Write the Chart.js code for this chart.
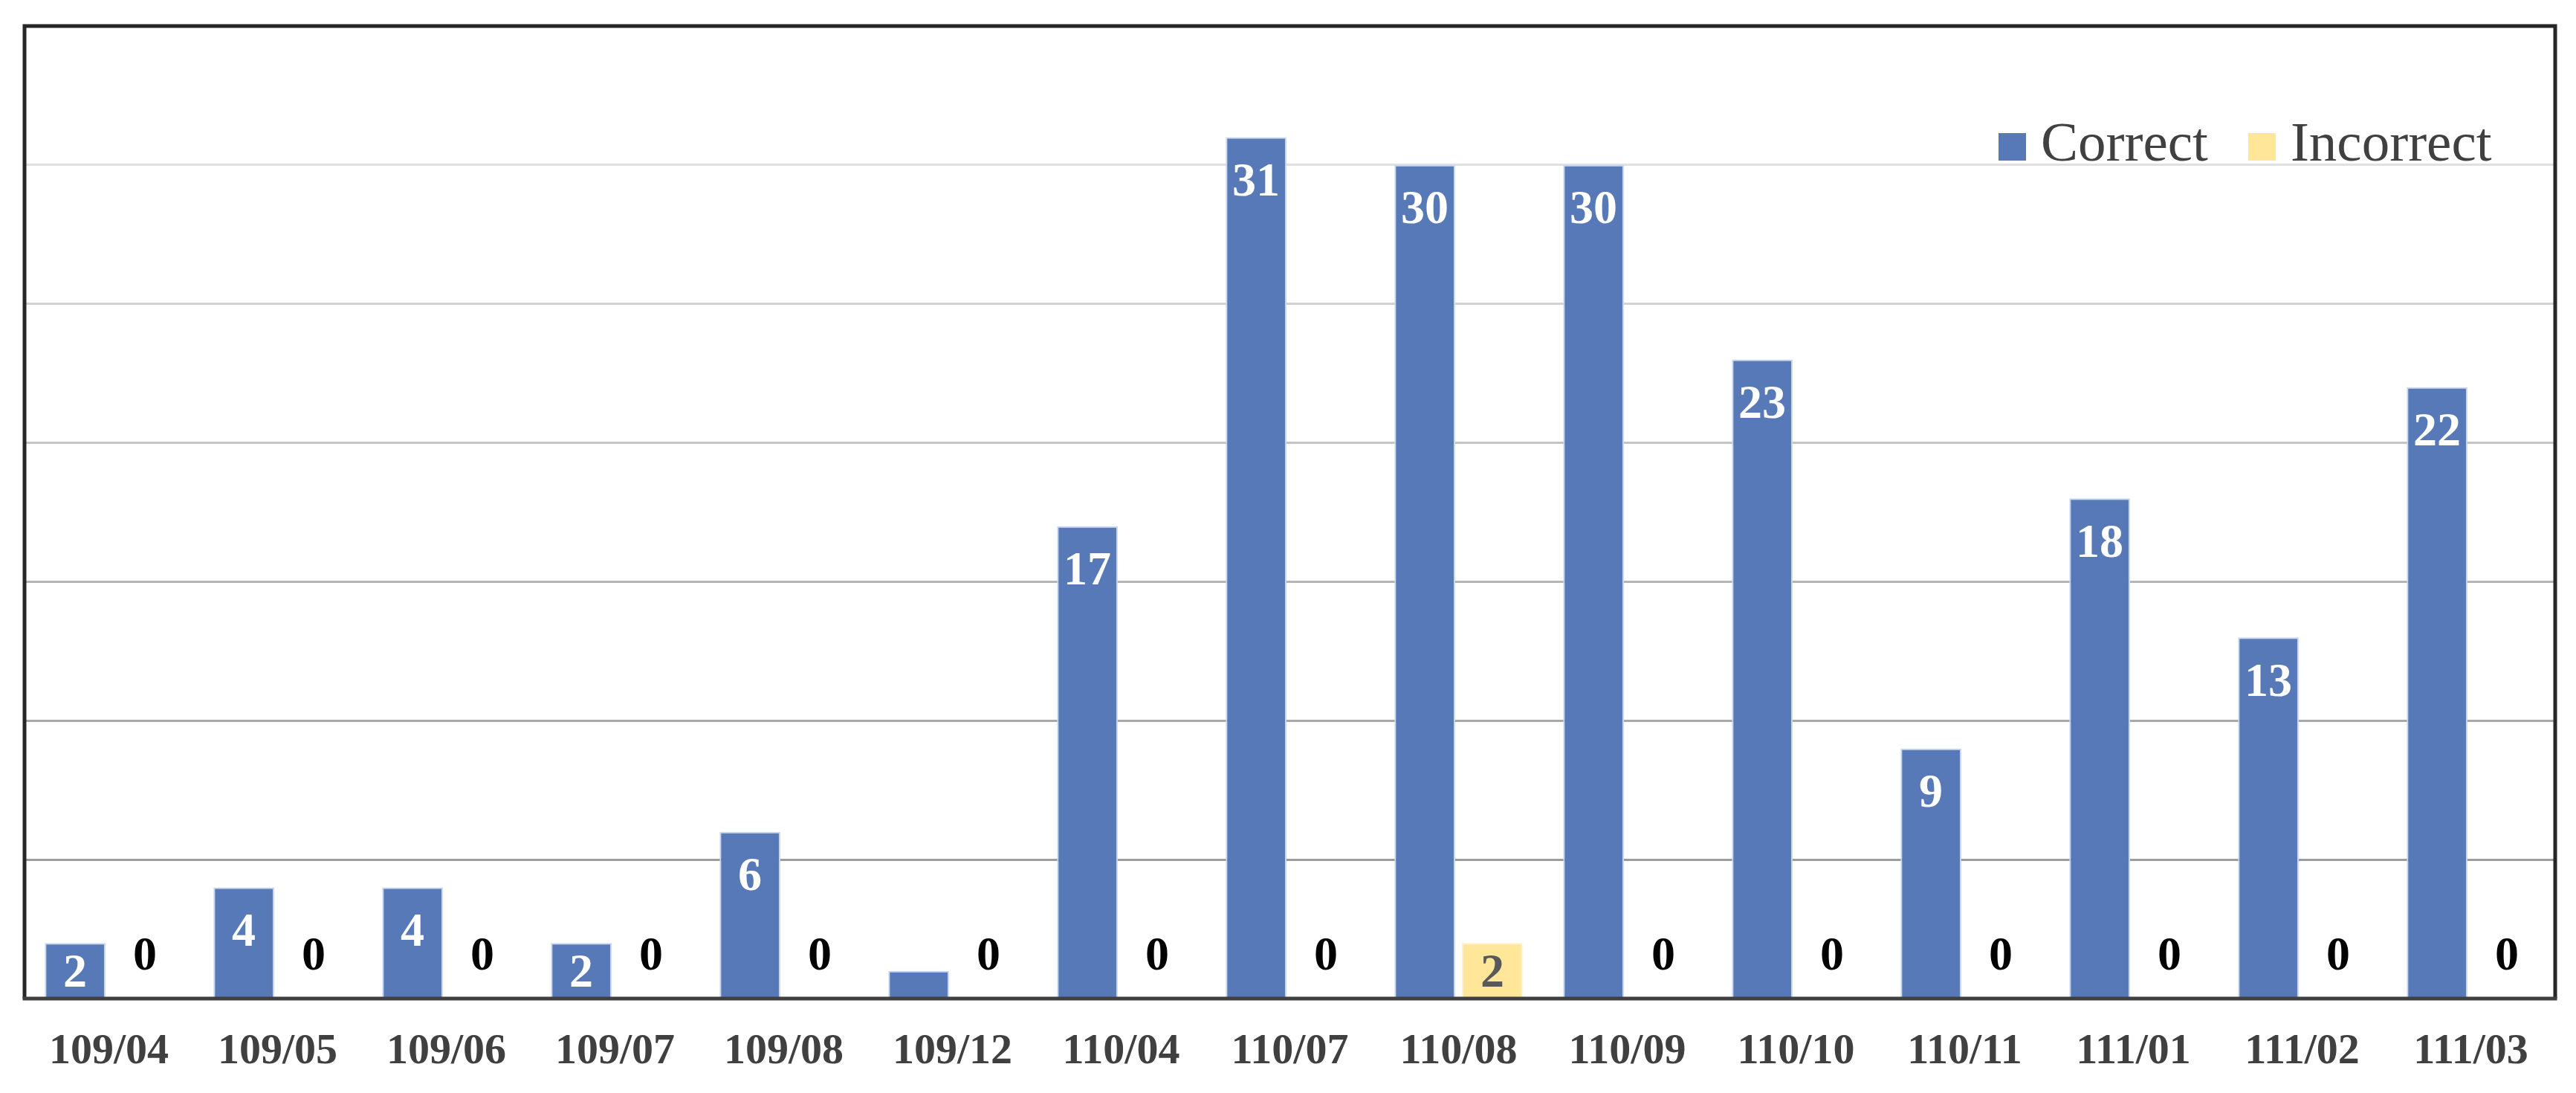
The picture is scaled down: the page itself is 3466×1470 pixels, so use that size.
<!DOCTYPE html>
<html>
<head>
<meta charset="utf-8">
<script src="https://cdn.jsdelivr.net/npm/chart.js@4.4.1/dist/chart.umd.min.js"></script>
<style>
  html, body { margin: 0; padding: 0; background: #ffffff; }
  #wrap { width: 3466px; height: 1470px; }
</style>
</head>
<body>
<div id="wrap"><canvas id="c" width="3466" height="1470"></canvas></div>
<script>
const categories = ["109/04","109/05","109/06","109/07","109/08","109/12","110/04","110/07","110/08","110/09","110/10","110/11","111/01","111/02","111/03"];
const correctValues = [2,4,4,2,6,1,17,31,30,30,23,9,18,13,22];
const incorrectValues = [0,0,0,0,0,0,0,0,2,0,0,0,0,0,0];
const seriesNames = ["Correct","Incorrect"];
const yTicks = [0,5,10,15,20,25,30,35];

const BLUE = "#5779B8";
const YELLOW = "#FFE699";
const SERIF = "'Liberation Serif', 'Times New Roman', serif";
const gridShades = ["#3f3f3f","#9c9c9c","#a9a9a9","#b5b5b5","#c4c4c4","#d2d2d2","#e0e0e0","#262626"];

const labelPlugin = {
  id: "barLabels",
  afterDatasetsDraw(chart) {
    const ctx = chart.ctx;
    ctx.save();
    ctx.font = "bold 64px " + SERIF;
    ctx.textAlign = "center";
    ctx.textBaseline = "middle";
    chart.data.datasets.forEach((ds, di) => {
      const meta = chart.getDatasetMeta(di);
      meta.data.forEach((el, i) => {
        const v = ds.data[i];
        const h = el.base - el.y;
        let y, color;
        if (v === 0) {
          y = el.base - 58;
          color = "#000000";
        } else {
          if (h < 60) return;
          y = Math.min(el.y + 60, el.base - 33);
          color = di === 0 ? "#ffffff" : "#595959";
        }
        ctx.fillStyle = color;
        ctx.fillText(String(v), el.x + (v === 0 ? 3 : 0), y + 2);
      });
    });
    ctx.restore();
  },
  afterDraw(chart) {
    const ctx = chart.ctx;
    const a = chart.chartArea;
    ctx.save();
    ctx.strokeStyle = "#262626";
    ctx.lineWidth = 5;
    ctx.beginPath();
    ctx.moveTo(a.left, a.bottom);
    ctx.lineTo(a.left, a.top);
    ctx.lineTo(a.right, a.top);
    ctx.lineTo(a.right, a.bottom);
    ctx.stroke();
    ctx.strokeStyle = "#404040";
    ctx.beginPath();
    ctx.moveTo(a.left - 2.5, a.bottom);
    ctx.lineTo(a.right + 2.5, a.bottom);
    ctx.stroke();
    ctx.font = "75px " + SERIF;
    ctx.textAlign = "left";
    ctx.textBaseline = "alphabetic";
    const baseY = 216;
    const sw = 37;
    let x = 2689;
    chart.data.datasets.forEach((ds) => {
      ctx.fillStyle = ds.backgroundColor;
      ctx.fillRect(x, baseY - sw, sw, sw);
      x += sw + 20;
      ctx.fillStyle = "#404040";
      ctx.fillText(ds.label, x, baseY);
      x += ctx.measureText(ds.label).width + 54;
    });
    ctx.restore();
  }
};

new Chart(document.getElementById("c"), {
  type: "bar",
  data: {
    labels: categories,
    datasets: [
      { label: seriesNames[0], data: correctValues, backgroundColor: BLUE, borderColor: "#c7d6f0", borderWidth: 2, borderSkipped: "bottom" },
      { label: seriesNames[1], data: incorrectValues, backgroundColor: YELLOW, borderColor: "#fff1c4", borderWidth: 2, borderSkipped: "bottom" }
    ]
  },
  options: {
    responsive: false,
    animation: false,
    layout: { padding: { left: 33, right: 28, top: 35, bottom: 20 } },
    plugins: { legend: { display: false }, tooltip: { enabled: false } },
    scales: {
      x: {
        categoryPercentage: 0.722,
        barPercentage: 1.0,
        grid: { display: false, drawTicks: false },
        border: { display: false },
        ticks: {
          color: "#404040",
          padding: 37,
          maxRotation: 0,
          autoSkip: false,
          font: { family: SERIF, size: 58, weight: "bold" }
        },
        afterFit(scale) { scale.height = 107; }
      },
      y: {
        display: true,
        min: yTicks[0],
        max: yTicks[yTicks.length - 1],
        afterBuildTicks(scale) { scale.ticks = yTicks.map(v => ({ value: v })); },
        ticks: { display: false },
        border: { display: false },
        grid: {
          drawTicks: false,
          lineWidth: 3,
          color: (c) => gridShades[yTicks.indexOf(c.tick.value)] || "#cccccc"
        },
        afterFit(scale) { scale.width = 0; }
      }
    }
  },
  plugins: [labelPlugin]
});
</script>
</body>
</html>
